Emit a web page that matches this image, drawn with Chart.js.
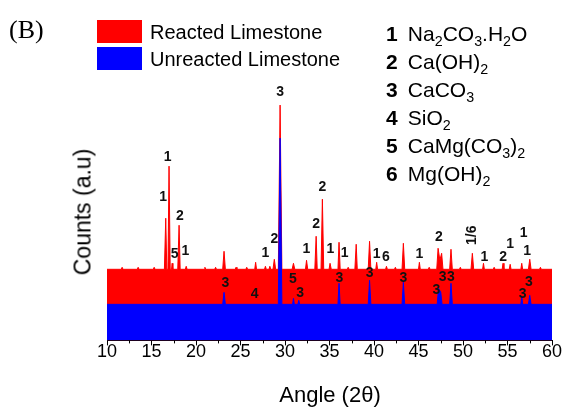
<!DOCTYPE html>
<html>
<head>
<meta charset="utf-8">
<script src="https://cdn.jsdelivr.net/npm/chart.js@4/dist/chart.umd.min.js"></script>
<style>
  body { margin: 0; background: #fff; }
  #wrap { position: relative; width: 567px; height: 407px; font-family: Arial, "Liberation Sans", sans-serif; color: #000; }
  #xrd { position: absolute; left: 0; top: 0; }
  .txt { position: absolute; white-space: nowrap; }
  .sw { position: absolute; width: 45px; height: 23px; }
  .lg { font-size: 20px; line-height: 24px; }
  .cmp { font-size: 21px; line-height: 28px; }
  .cmp b { display: inline-block; width: 16px; }
  sub { font-size: 0.68em; vertical-align: -0.32em; line-height: 0; }
</style>
</head>
<body>
<div id="wrap">
  <canvas id="xrd" width="567" height="407"></canvas>
  <div class="txt" style="left:9px;top:14px;font-family:'Liberation Serif','Times New Roman',serif;font-size:26px;line-height:32px;">(B)</div>
  <div class="sw" style="left:97px;top:20px;background:#ff0000;"></div>
  <div class="sw" style="left:97px;top:47px;background:#0000ff;"></div>
  <div class="txt lg" style="left:150px;top:20px;">Reacted Limestone</div>
  <div class="txt lg" style="left:150px;top:47px;">Unreacted Limestone</div>
  <div class="txt cmp" style="left:386px;top:20px;">
    <div><b>1</b> Na<sub>2</sub>CO<sub>3</sub>.H<sub>2</sub>O</div>
    <div><b>2</b> Ca(OH)<sub>2</sub></div>
    <div><b>3</b> CaCO<sub>3</sub></div>
    <div><b>4</b> SiO<sub>2</sub></div>
    <div><b>5</b> CaMg(CO<sub>3</sub>)<sub>2</sub></div>
    <div><b>6</b> Mg(OH)<sub>2</sub></div>
  </div>
  <div class="txt" style="left:83px;top:212px;font-size:23px;transform:translate(-50%,-50%) rotate(-90deg);">Counts (a.u)</div>
  <div class="txt" style="left:330px;top:395px;font-size:22px;line-height:26px;transform:translate(-50%,-50%);">Angle (2θ)</div>
</div>
<script>
// angle (2theta), counts (a.u.) - reacted pattern sits on top of the unreacted one
const reacted = [
  [10,71],[11.6,71],[11.7,73],[11.8,71],[13.4,71],[13.5,73],[13.6,71],[15.2,71],[15.3,73],[15.4,71],
  [16.45,71],[16.6,122],[16.72,71],[16.85,71],[16.97,174],[17.1,71],[17.25,71],[17.32,77],[17.4,71],
  [17.95,71],[18.1,115],[18.22,71],[18.8,71],[18.9,74],[19.0,71],[20.9,71],[21.0,73],[21.1,71],
  [22.1,71],[22.2,73],[22.3,71],[23.0,71],[23.15,89],[23.3,71],[24.4,71],[24.5,73],[24.6,71],[25.6,71],[25.7,73],[25.8,71],
  [26.6,71],[26.7,78],[26.8,71],[27.7,71],[27.8,74],[27.9,71],[28.2,71],[28.3,74],[28.4,71],
  [28.65,71],[28.8,81],[28.95,71],[29.25,71],[29.45,235],[29.65,71],[30.8,71],[30.95,77],[31.1,71],
  [32.3,71],[32.42,80],[32.55,71],[33.35,71],[33.5,104],[33.62,71],[34.05,71],[34.2,141],[34.35,71],
  [34.95,71],[35.06,77],[35.2,71],[35.95,71],[36.07,98],[36.2,71],[37.0,71],[37.1,73],[37.2,71],[37.85,71],[38.0,96],[38.12,71],
  [39.35,71],[39.5,99],[39.65,71],[40.2,71],[40.3,78],[40.4,71],[41.3,71],[41.4,74],[41.5,71],[42.3,71],[42.4,73],[42.5,71],
  [43.15,71],[43.3,97],[43.45,71],[45.0,71],[45.1,78],[45.2,71],[46.1,71],[46.2,73],[46.3,71],
  [47.05,71],[47.2,92],[47.4,80],[47.6,87],[47.75,71],
  [48.5,71],[48.65,91],[48.8,71],[49.6,71],[49.7,73],[49.8,71],[50.9,71],[51.05,87],[51.2,71],[52.2,71],[52.3,77],[52.4,71],
  [53.4,71],[53.5,73],[53.6,71],[54.4,71],[54.5,77],[54.6,71],[55.2,71],[55.3,76],[55.4,71],[56.5,71],[56.6,77],[56.7,71],
  [57.35,71],[57.5,81],[57.65,71],[58.6,71],[58.7,73],[58.8,71],[60,71]
];
const unreacted = [
  [10,36],[23.0,36],[23.15,48],[23.3,36],[29.25,36],[29.45,202],[29.65,36],[30.85,36],[30.95,42],[31.05,36],
  [31.45,36],[31.55,40],[31.65,36],[35.95,36],[36.07,57],[36.2,36],[39.35,36],[39.5,60],[39.65,36],
  [43.15,36],[43.3,58],[43.45,36],[47.1,36],[47.25,52],[47.5,48],[47.65,36],[48.5,36],[48.65,57],[48.8,36],
  [56.5,36],[56.6,44],[56.7,36],[57.35,36],[57.5,45],[57.65,36],[60,36]
];
// phase labels: text, angle, height
const peakLabels = [
  ['1',16.3,143],['1',16.8,183],['5',17.6,86],['1',18.8,89],['2',18.2,124],['3',23.3,57],['4',26.6,46],
  ['1',27.8,87],['2',28.8,101],['3',29.45,248],['5',30.9,61],['3',31.7,47],['1',32.4,91],['2',33.5,116],
  ['2',34.2,153],['1',35.1,91],['3',36.1,62],['1',36.7,87],['3',39.5,67],['1',40.3,86],['6',41.35,83],
  ['3',43.3,62],['1',45.1,86],['2',47.3,103],['3',47.0,50],['3',47.7,63],['3',48.65,63],['1',52.4,83],
  ['2',54.5,83],['1',55.3,96],['1',56.8,107],['1',57.2,89],['3',56.7,46],['3',57.4,58]
];
const rotatedLabels = [['1/6',51.05,105]];
const xTicks = [10,15,20,25,30,35,40,45,50,55,60];
const xMinorTicks = [12.5,17.5,22.5,27.5,32.5,37.5,42.5,47.5,52.5,57.5];

const toXY = arr => arr.map(p => ({ x: p[0], y: p[1] }));

const labelPlugin = {
  id: 'peakLabels',
  afterDatasetsDraw(chart) {
    const { ctx, scales: { x, y } } = chart;
    ctx.save();
    ctx.fillStyle = '#111';
    ctx.font = 'bold 14px Arial, "Liberation Sans", sans-serif';
    ctx.textAlign = 'center';
    ctx.textBaseline = 'middle';
    peakLabels.forEach(l => ctx.fillText(l[0], x.getPixelForValue(l[1]), y.getPixelForValue(l[2])));
    rotatedLabels.forEach(l => {
      ctx.save();
      ctx.translate(x.getPixelForValue(l[1]), y.getPixelForValue(l[2]));
      ctx.rotate(-Math.PI / 2);
      ctx.fillText(l[0], 0, 0);
      ctx.restore();
    });
    // minor ticks
    ctx.strokeStyle = '#000';
    ctx.lineWidth = 1;
    const b = chart.chartArea.bottom;
    xMinorTicks.forEach(v => {
      const px = Math.round(x.getPixelForValue(v)) + 0.5;
      ctx.beginPath();
      ctx.moveTo(px, b);
      ctx.lineTo(px, b + 3);
      ctx.stroke();
    });
    ctx.restore();
  }
};

new Chart(document.getElementById('xrd'), {
  type: 'line',
  data: {
    datasets: [
      {
        label: 'Unreacted Limestone',
        data: toXY(unreacted),
        borderColor: '#0000ff',
        backgroundColor: '#0000ff',
        borderWidth: 1,
        pointRadius: 0,
        fill: 'origin',
        order: 0
      },
      {
        label: 'Reacted Limestone',
        data: toXY(reacted),
        borderColor: '#ff0000',
        backgroundColor: '#ff0000',
        borderWidth: 1,
        pointRadius: 0,
        fill: 'origin',
        order: 1
      }
    ]
  },
  options: {
    responsive: false,
    animation: false,
    layout: { padding: { left: 107, right: 15, top: 60, bottom: 48 } },
    plugins: { legend: { display: false }, tooltip: { enabled: false } },
    scales: {
      x: {
        type: 'linear',
        min: 10,
        max: 60,
        afterBuildTicks: axis => { axis.ticks = xTicks.map(v => ({ value: v })); },
        grid: { drawOnChartArea: false, drawTicks: true, tickLength: 5, color: '#000' },
        border: { display: true, color: '#000', width: 1 },
        ticks: { color: '#000', padding: -4, font: { size: 18, family: 'Arial, "Liberation Sans", sans-serif' } }
      },
      y: { display: false, min: 0, max: 280 }
    }
  },
  plugins: [labelPlugin]
});
</script>
</body>
</html>
